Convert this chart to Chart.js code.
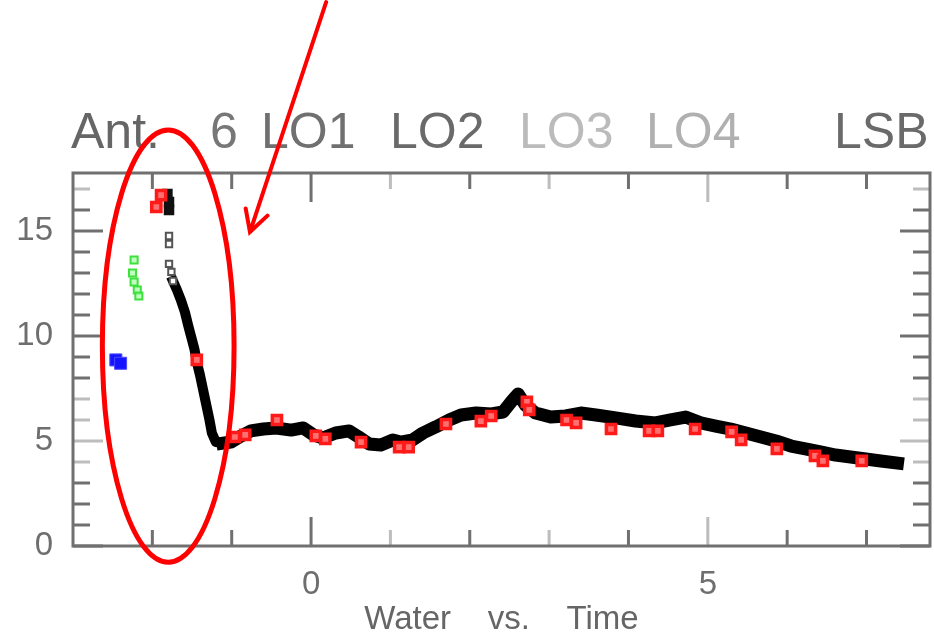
<!DOCTYPE html>
<html>
<head>
<meta charset="utf-8">
<title>Water vs. Time</title>
<script src="https://cdn.jsdelivr.net/npm/chart.js@4.4.1/dist/chart.umd.min.js"></script>
<style>
  html, body { margin: 0; padding: 0; background: #fff; }
  canvas { display: block; }
</style>
</head>
<body>
<canvas id="plot" width="934" height="637"></canvas>
<script>
// Antenna 6 water readings against time (hours)
const titleWords = ['Ant.', '6', 'LO1', 'LO2', 'LO3', 'LO4', 'LSB'];
const xAxisTitle = 'Water    vs.    Time';

// tick marks and the labelled ones
const xTickValues = [-2, -1, 0, 1, 2, 3, 4, 5, 6, 7];
const xTickLabels = [0, 5];
const yTickValues = [0, 1, 2, 3, 4, 5, 6, 7, 8, 9, 10, 11, 12, 13, 14, 15, 16, 17];
const yTickLabels = [0, 5, 10, 15];

// black trace: the first 8 readings are loose points, the rest form the track
const traceX = [-1.81, -1.79, -1.79, -1.79, -1.79, -1.79, -1.76, -1.74,
  -1.69, -1.64, -1.59, -1.55, -1.51, -1.47, -1.44, -1.40, -1.36, -1.32, -1.28, -1.25, -1.20, -1.11, -1.01,
  -0.88, -0.76, -0.60, -0.44, -0.25, -0.10, 0.03, 0.15, 0.31, 0.48, 0.60, 0.73, 0.88, 1.03, 1.13, 1.28,
  1.41, 1.57, 1.74, 1.89, 2.08, 2.27, 2.42, 2.54, 2.61, 2.70, 2.83, 3.02, 3.21, 3.40, 3.59, 3.84, 4.09,
  4.34, 4.53, 4.72, 4.91, 5.10, 5.29, 5.48, 5.67, 5.86, 6.05, 6.23, 6.42, 6.61, 6.80, 6.99, 7.18, 7.39];
const traceY = [16.76, 16.38, 16.00, 14.76, 14.38, 13.43, 13.05, 12.62,
  12.19, 11.71, 11.14, 10.52, 9.95, 9.38, 8.76, 8.14, 7.43, 6.71, 6.00, 5.38, 4.95, 4.90, 4.95,
  5.24, 5.48, 5.57, 5.62, 5.52, 5.62, 5.29, 5.14, 5.38, 5.48, 5.19, 4.86, 4.81, 5.05, 4.95, 5.05,
  5.38, 5.67, 6.00, 6.24, 6.33, 6.29, 6.38, 6.95, 7.24, 6.71, 6.33, 6.14, 6.19, 6.33, 6.24, 6.10, 5.95,
  5.86, 6.00, 6.14, 5.86, 5.71, 5.57, 5.38, 5.19, 5.00, 4.76, 4.62, 4.48, 4.33, 4.24, 4.14, 4.05, 3.95];
const LOOSE = 8;      // loose readings at the start of the trace
const DESCENT = 21;   // last index of the steep drop

// red readings
const redX = [-1.89, -1.95, -1.44, -0.96, -0.83, -0.43, 0.06, 0.18, 0.63, 1.11, 1.23, 1.70, 2.14, 2.27,
  2.72, 2.75, 3.22, 3.34, 3.78, 4.26, 4.37, 4.84, 5.30, 5.42, 5.87, 6.35, 6.45, 6.94];
const redY = [16.71, 16.14, 8.86, 5.19, 5.29, 6.00, 5.24, 5.10, 4.95, 4.71, 4.71, 5.81, 5.95, 6.19,
  6.86, 6.48, 6.00, 5.86, 5.57, 5.48, 5.48, 5.57, 5.43, 5.05, 4.62, 4.29, 4.05, 4.05];

// green readings
const greenX = [-2.23, -2.25, -2.23, -2.19, -2.17];
const greenY = [13.62, 13.00, 12.57, 12.19, 11.90];

// blue readings
const blueX = [-2.46, -2.40];
const blueY = [8.86, 8.70];

const FONT = '"Liberation Sans", Arial, sans-serif';
const FRAME = '#707070';
const FADED = '#bdbdbd';

// ring and arrow drawn over the plot, in data units
const ring = { x: -1.80, y: 9.52, rx: 0.83, ry: 10.29 };
const arrow = { fromX: 0.19, fromY: 25.9, toX: -0.77, toY: 14.95 };

const zip = (xs, ys) => xs.map((v, i) => ({ x: v, y: ys[i] }));

// frame with inward ticks on all four sides
const axisFrame = {
  id: 'axisFrame',
  beforeDatasetsDraw(chart) {
    const { ctx, chartArea: a, scales: { x, y } } = chart;
    const fadedX = [1, 3, 5];
    const fadedY = [4, 5, 6, 7, 17];
    ctx.save();
    ctx.lineWidth = 3;
    ctx.lineCap = 'butt';
    xTickValues.forEach(v => {
      const px = x.getPixelForValue(v);
      const len = xTickLabels.includes(v) ? 29 : 16;
      ctx.strokeStyle = fadedX.includes(v) ? FADED : FRAME;
      ctx.beginPath();
      ctx.moveTo(px, a.bottom); ctx.lineTo(px, a.bottom - len);
      ctx.moveTo(px, a.top); ctx.lineTo(px, a.top + len);
      ctx.stroke();
    });
    yTickValues.forEach(v => {
      const py = y.getPixelForValue(v);
      const len = yTickLabels.includes(v) ? 30 : 17;
      ctx.strokeStyle = fadedY.includes(v) ? FADED : FRAME;
      ctx.beginPath();
      ctx.moveTo(a.left, py); ctx.lineTo(a.left + len, py);
      ctx.moveTo(a.right, py); ctx.lineTo(a.right - len, py);
      ctx.stroke();
    });
    ctx.strokeStyle = FRAME;
    ctx.strokeRect(a.left, a.top, a.right - a.left, a.bottom - a.top);
    ctx.restore();
  }
};

// heading words, spaced out across the top
const heading = {
  id: 'heading',
  afterDraw(chart) {
    const { ctx } = chart;
    const xs = [71, 210, 261, 390, 519, 646, 834];
    const colors = ['#666', '#777', '#707070', '#6a6a6a', '#bbbbbb', '#b0b0b0', '#6a6a6a'];
    ctx.save();
    ctx.font = '50px ' + FONT;
    ctx.textBaseline = 'alphabetic';
    titleWords.forEach((w, i) => {
      ctx.fillStyle = colors[i];
      ctx.fillText(w, xs[i], 148);
    });
    ctx.restore();
  }
};

// red ring and arrow marking the early readings
const markup = {
  id: 'markup',
  afterDraw(chart) {
    const { ctx, scales: { x, y } } = chart;
    ctx.save();
    ctx.strokeStyle = '#ff0000';
    ctx.lineWidth = 5;
    const cx = x.getPixelForValue(ring.x);
    const cy = y.getPixelForValue(ring.y);
    const rx = x.getPixelForValue(ring.x + ring.rx) - cx;
    const ry = cy - y.getPixelForValue(ring.y + ring.ry);
    ctx.beginPath();
    ctx.ellipse(cx, cy, rx, ry, 0, 0, Math.PI * 2);
    ctx.stroke();

    const x0 = x.getPixelForValue(arrow.fromX), y0 = y.getPixelForValue(arrow.fromY);
    const x1 = x.getPixelForValue(arrow.toX), y1 = y.getPixelForValue(arrow.toY);
    const ang = Math.atan2(y1 - y0, x1 - x0);
    const head = 24, spread = 0.5;
    ctx.lineWidth = 4;
    ctx.lineCap = 'round';
    ctx.beginPath();
    ctx.moveTo(x0, y0); ctx.lineTo(x1, y1);
    ctx.moveTo(x1 - head * Math.cos(ang - spread), y1 - head * Math.sin(ang - spread));
    ctx.lineTo(x1, y1);
    ctx.lineTo(x1 - head * Math.cos(ang + spread), y1 - head * Math.sin(ang + spread));
    ctx.stroke();
    ctx.restore();
  }
};

new Chart(document.getElementById('plot'), {
  type: 'scatter',
  data: {
    datasets: [
      {
        data: zip(redX, redY),
        pointStyle: 'rect',
        pointRadius: 6.5,
        borderWidth: 3.5,
        borderColor: '#ff1a1a',
        backgroundColor: '#ff7070'
      },
      {
        data: zip(greenX, greenY),
        pointStyle: 'rect',
        pointRadius: 5,
        borderWidth: 2,
        borderColor: '#3ee03e',
        backgroundColor: 'rgba(150,255,150,0.6)'
      },
      {
        data: zip(blueX, blueY),
        pointStyle: 'rect',
        pointRadius: 8.5,
        borderWidth: 1,
        borderColor: '#4a4aff',
        backgroundColor: '#1414ff'
      },
      {
        data: zip(traceX, traceY),
        showLine: true,
        borderColor: '#000',
        borderWidth: 13,
        borderJoinStyle: 'round',
        borderCapStyle: 'square',
        segment: {
          borderColor: c => c.p0DataIndex < LOOSE - 1 ? 'transparent' : undefined,
          borderWidth: c => c.p0DataIndex < DESCENT ? 10 : undefined
        },
        pointStyle: 'rect',
        pointRadius: c => c.dataIndex < 3 ? 6 : (c.dataIndex < LOOSE ? 4.5 : 0),
        pointBorderWidth: 2,
        pointBorderColor: c => c.dataIndex < 3 ? '#111' : '#555',
        pointBackgroundColor: c => c.dataIndex < 3 ? '#111' : '#fff'
      }
    ]
  },
  options: {
    responsive: false,
    animation: false,
    devicePixelRatio: 1,
    events: [],
    layout: { autoPadding: false, padding: { top: 173, right: 4, left: 0, bottom: 0 } },
    plugins: { legend: { display: false }, tooltip: { enabled: false } },
    scales: {
      x: {
        type: 'linear',
        min: -3,
        max: 7.8,
        // tick marks come from the frame plugin; tickLength only spaces the labels
        grid: { display: false, drawTicks: true, tickLength: 19 },
        border: { display: false },
        ticks: {
          stepSize: 1,
          autoSkip: false,
          maxRotation: 0,
          padding: 0,
          color: '#6e6e6e',
          font: { family: FONT, size: 33 },
          callback: v => xTickLabels.includes(v) ? String(v) : ''
        },
        title: {
          display: true,
          text: xAxisTitle,
          color: '#666',
          font: { family: FONT, size: 33 },
          padding: { top: 0, bottom: -3 }
        },
        afterFit: s => {
          s.height = 91;
          s.paddingLeft = 0;
          s.paddingRight = 0;
        }
      },
      y: {
        type: 'linear',
        min: 0,
        max: 17.76,
        grid: { display: false, drawTicks: true, tickLength: 20 },
        border: { display: false },
        ticks: {
          stepSize: 1,
          autoSkip: false,
          padding: 0,
          color: '#6e6e6e',
          font: { family: FONT, size: 33 },
          callback: v => yTickLabels.includes(v) ? String(v) : ''
        },
        afterFit: s => {
          s.width = 73;
          s.paddingTop = 0;
          s.paddingBottom = 0;
        }
      }
    }
  },
  plugins: [axisFrame, heading, markup]
});
</script>
</body>
</html>
